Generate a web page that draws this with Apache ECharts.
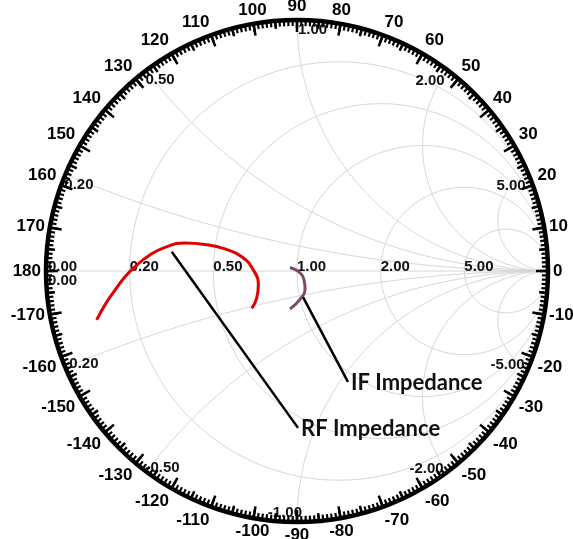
<!DOCTYPE html>
<html><head><meta charset="utf-8">
<script src="https://cdn.jsdelivr.net/npm/echarts@6/dist/echarts.min.js"></script>
<style>html,body{margin:0;padding:0;background:#fff}#c{width:573px;height:539px}</style>
</head><body><div id="c"></div>
<script>
// ---- data (reflection coefficient Γ = re + j·im) ----
const rfGammaRe = [-0.798, -0.765, -0.725, -0.685, -0.645, -0.592, -0.526, -0.446, -0.367, -0.287, -0.220, -0.174, -0.154, -0.161, -0.180];
const rfGammaIm = [-0.195, -0.135, -0.076, -0.023, 0.017, 0.060, 0.094, 0.112, 0.106, 0.088, 0.057, 0.004, -0.056, -0.109, -0.149];
const ifGammaRe = [-0.028, 0.008, 0.028, 0.032, 0.016, -0.028];
const ifGammaIm = [0.014, -0.004, -0.036, -0.068, -0.108, -0.151];
// leader lines for the annotations (start = on curve, end = at text)
const rfLeaderRe = [-0.499, 0.004];
const rfLeaderIm = [0.077, -0.625];
const ifLeaderRe = [0.024, 0.203];
const ifLeaderIm = [-0.104, -0.442];
const annotationNames = ['RF Impedance', 'IF Impedance'];
// grid values
const resistanceValues = [0.2, 0.5, 1, 2, 5];
const reactanceValues = [0.2, 0.5, 1, 2, 5];

const zip = (a, b) => a.map((v, i) => [v, b[i]]);
const gamma = (r, x) => { const d = (r + 1) * (r + 1) + x * x; return [(r * r - 1 + x * x) / d, 2 * x / d]; };

const gridColor = '#d6d6d6';
const series = [];
// resistance circles
resistanceValues.forEach(r => {
  const c = r / (1 + r), rad = 1 / (1 + r), pts = [];
  for (let i = 0; i <= 360; i++) { const a = i * Math.PI / 180; pts.push([c + rad * Math.cos(a), rad * Math.sin(a)]); }
  series.push({ type: 'line', data: pts, showSymbol: false, silent: true, lineStyle: { color: gridColor, width: 1 }, z: 1 });
});
// reactance arcs
reactanceValues.forEach(xv => {
  [xv, -xv].forEach(x => {
    const pts = [];
    for (let i = 0; i < 400; i++) { const s = i / 400; const r = s / (1 - s); pts.push(gamma(r, x)); }
    pts.push([1, 0]);
    series.push({ type: 'line', data: pts, showSymbol: false, silent: true, lineStyle: { color: gridColor, width: 1 }, z: 1 });
  });
});
// real axis
series.push({ type: 'line', data: [[-1, 0], [1, 0]], showSymbol: false, silent: true, lineStyle: { color: gridColor, width: 1 }, z: 1 });

// grid labels
const lblFont = { fontFamily: 'Liberation Sans', fontWeight: 'bold', fontSize: 15, color: '#111' };
const gridLabels = [];
const addLbl = (p, text, align, dx, dy) => gridLabels.push({ value: p, label: Object.assign({ formatter: text, align: align, verticalAlign: 'middle', offset: [dx, dy] }, lblFont) });
addLbl([-1, 0], '0.00', 'left', 2, -4);
addLbl([-1, 0], '0.00', 'left', 2, 10);
resistanceValues.forEach(r => addLbl(gamma(r, 0), r.toFixed(2), 'left', 0, -4));
reactanceValues.forEach(x => {
  const up = gamma(0, x), dn = gamma(0, -x);
  if (x < 1) { addLbl(up, x.toFixed(2), 'left', -1, 10); addLbl(dn, (-x).toFixed(2), 'left', -1, -4); }
  else if (x === 1) { addLbl(up, x.toFixed(2), 'left', 1, 10); addLbl(dn, (-x).toFixed(2), 'right', 5, -9); }
  else { addLbl(up, x.toFixed(2), 'right', -3, 11); addLbl(dn, (-x).toFixed(2), 'right', -4, -3); }
});
series.push({ type: 'scatter', data: gridLabels, symbolSize: 0, silent: true, z: 3, itemStyle: { opacity: 1 }, label: { show: true, position: [0, 0] } });

// impedance curves
series.push({ name: 'RF', type: 'line', data: zip(rfGammaRe, rfGammaIm), smooth: 0.5, showSymbol: false, lineStyle: { color: '#e10000', width: 3 }, z: 5 });
series.push({ name: 'IF', type: 'line', data: zip(ifGammaRe, ifGammaIm), smooth: 0.5, showSymbol: false, lineStyle: { color: '#7d4a6c', width: 3 }, z: 5 });
// leader lines
series.push({ type: 'line', data: zip(rfLeaderRe, rfLeaderIm), showSymbol: false, lineStyle: { color: '#000', width: 2.5 }, z: 6 });
series.push({ type: 'line', data: zip(ifLeaderRe, ifLeaderIm), showSymbol: false, lineStyle: { color: '#000', width: 2.5 }, z: 6 });
// annotation texts
const annFont = { fontFamily: 'Lato', fontWeight: 'bold', fontSize: 22, color: '#111' };
series.push({ type: 'scatter', symbolSize: 0, silent: true, z: 7, itemStyle: { opacity: 1 },
  data: [
    { value: [rfLeaderRe[1], rfLeaderIm[1]], label: Object.assign({ formatter: annotationNames[0] }, annFont) },
    { value: [ifLeaderRe[1], ifLeaderIm[1]], label: Object.assign({ formatter: annotationNames[1] }, annFont) }
  ],
  label: { show: true, position: [0, 0], align: 'left', verticalAlign: 'middle', offset: [3, 1] } });

const angleFormatter = v => (v === 360 ? '' : String(v > 180 ? v - 360 : v));

const option = {
  animation: false,
  backgroundColor: '#fff',
  grid: { left: 46, top: 20, width: 502, height: 502 },
  xAxis: { type: 'value', min: -1, max: 1, show: false },
  yAxis: { type: 'value', min: -1, max: 1, show: false },
  polar: [{ center: [297, 271], radius: 251 }, { center: [297, 271], radius: 251 }],
  radiusAxis: [{ polarIndex: 0, min: 0, max: 1, show: false }, { polarIndex: 1, min: 0, max: 1, show: false }],
  angleAxis: [
    { polarIndex: 0, type: 'value', min: 0, max: 360, interval: 10, startAngle: 0, clockwise: false, z: 10,
      axisLine: { lineStyle: { color: '#000', width: 4.5 } },
      axisTick: { inside: true, length: 12, lineStyle: { color: '#000', width: 2.5 } },
      minorTick: { show: true, splitNumber: 10, length: 6, lineStyle: { color: '#000', width: 2.2 } },
      axisLabel: { margin: 5, color: '#000', fontSize: 17, fontWeight: 'bold', fontFamily: 'Liberation Sans', formatter: angleFormatter },
      splitLine: { show: false } },
    { polarIndex: 1, type: 'value', min: 0, max: 360, interval: 5, startAngle: 0, clockwise: false, z: 10,
      axisLine: { show: false },
      axisTick: { inside: true, length: 8, lineStyle: { color: '#000', width: 2.5 } },
      axisLabel: { show: false }, splitLine: { show: false } }
  ],
  series: series
};
const chart = echarts.init(document.getElementById('c'), null, { renderer: 'canvas' });
chart.setOption(option);
</script></body></html>
